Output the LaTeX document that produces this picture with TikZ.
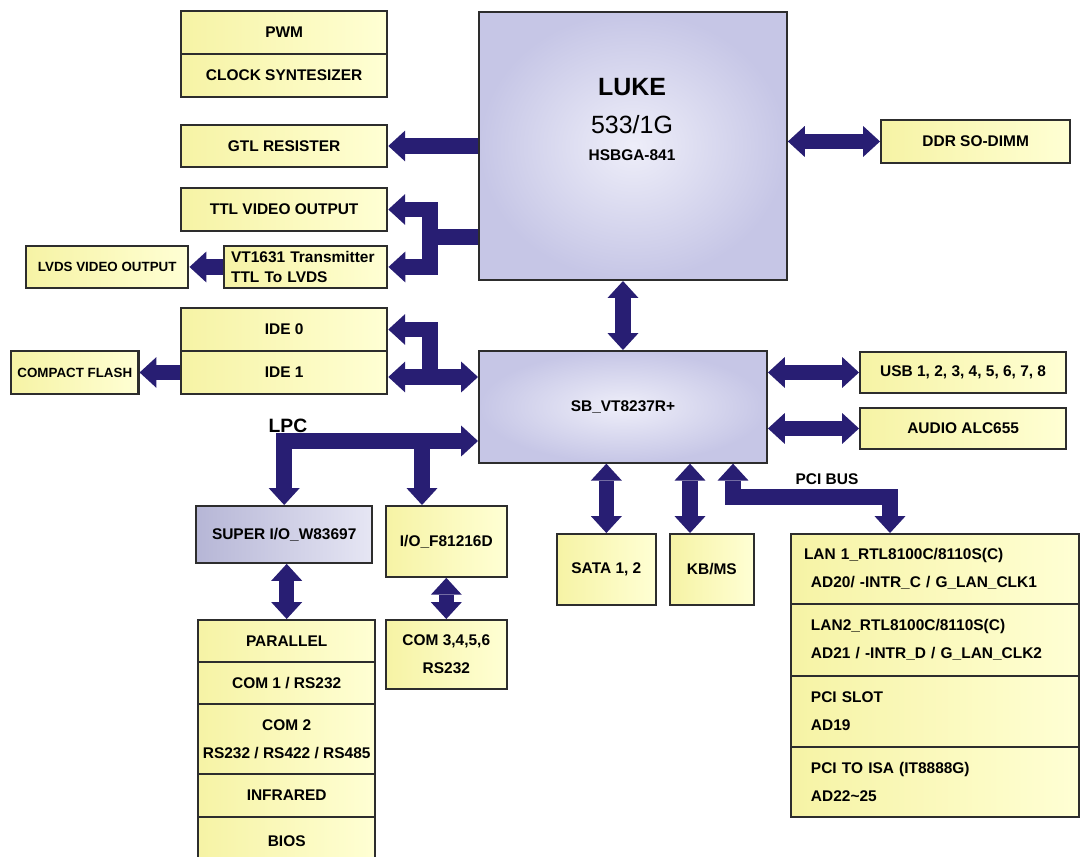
\documentclass[tikz,border=0pt]{standalone}
\usepackage{fontspec}
\setmainfont{Liberation Sans}
\usepackage{tikz}
\usetikzlibrary{arrows.meta,positioning,calc}
\definecolor{busblue}{RGB}{40,30,115}
\definecolor{boxline}{RGB}{45,45,45}
\definecolor{ylwL}{RGB}{246,243,165}
\definecolor{ylwR}{RGB}{255,255,212}
\definecolor{chipIn}{RGB}{238,238,249}
\definecolor{chipOut}{RGB}{198,198,230}
\definecolor{sioL}{RGB}{182,182,214}
\definecolor{sioR}{RGB}{230,230,244}
\newcommand{\pxl}{0.5669pt}

\begin{document}
\begin{tikzpicture}[x=0.02cm,y=-0.02cm,
  sz/.style 2 args={anchor=north west,minimum width=#1*\pxl,minimum height=#2*\pxl},
  yb/.style={draw=boxline,line width=1.2pt,left color=ylwL,right color=ylwR,inner sep=0pt,
    font=\fontsize{8.8}{15.9}\selectfont\bfseries,align=center},
  ch/.style={yb,inner color=chipIn,outer color=chipOut},
  lan/.style={yb,align=left,text width=141.2pt,inner xsep=20*\pxl},
  sm/.style={font=\fontsize{7.6}{9}\selectfont\bfseries},
  bus/.style={line width=8.8pt,draw=busblue,line join=miter},
  hd/.tip={Triangle[width=17.6pt,length=9.6pt,line width=0pt]}
]
\clip (0,0) rectangle (1081,856);
\fill[white] (0,0) rectangle (1081,856);
%--- left column ---
\node[yb,sz={207}{43}] (pwm) at (180,10) {PWM};
\node[yb,sz={207}{43}] (clk) at (180,53) {CLOCK SYNTESIZER};
\node[yb,sz={207}{42}] (gtl) at (180,124) {GTL RESISTER};
\node[yb,sz={207}{43}] (ttl) at (180,187) {TTL VIDEO OUTPUT};
\node[yb,sz={164}{42},align=left,text width=85pt,inner xsep=7*\pxl,
  font=\fontsize{8.8}{11.3}\selectfont\bfseries] (vt) at (223,245) {VT1631 Transmitter\\TTL To LVDS};
\node[yb,sm,sz={163}{42}] (lvds) at (25,245) {LVDS VIDEO OUTPUT};
\node[yb,sz={207}{43}] (ide0) at (180,307) {IDE 0};
\node[yb,sz={207}{43}] (ide1) at (180,350) {IDE 1};
\node[yb,sm,sz={128}{43}] (cf) at (10,350) {COMPACT FLASH};
%--- chips ---
\node[ch,sz={309}{269}] (luke) at (478,11) {};
\node[font=\fontsize{14.2}{16}\selectfont\bfseries] (lukename) at (632,87) {LUKE};
\node[font=\fontsize{14.2}{16}\selectfont] (lukespeed) at (632,125) {533/1G};
\node[font=\fontsize{8.8}{10}\selectfont\bfseries] (lukepkg) at (632,155) {HSBGA-841};
\node[ch,sz={289}{112}] (sb) at (478,350) {SB\_VT8237R+};
%--- right side ---
\node[yb,sz={190}{43}] (ddr) at (880,119) {DDR SO-DIMM};
\node[yb,sz={207}{41}] (usb) at (859,351) {USB 1, 2, 3, 4, 5, 6, 7, 8};
\node[yb,sz={207}{41}] (audio) at (859,407) {AUDIO ALC655};
%--- LPC devices ---
\node[yb,left color=sioL,right color=sioR,sz={177}{57}] (sio) at (195,505) {SUPER I/O\_W83697};
\node[yb,sz={121}{71}] (iof) at (385,505) {I/O\_F81216D};
\node[yb,sz={121}{69}] (com3) at (385,619) {COM 3,4,5,6\\RS232};
\node[yb,sz={178}{42}] (par) at (197,619) {PARALLEL};
\node[yb,sz={178}{42}] (com1) at (197,661) {COM 1 / RS232};
\node[yb,sz={178}{70}] (com2) at (197,703) {COM 2\\RS232 / RS422 / RS485};
\node[yb,sz={178}{43}] (ir) at (197,773) {INFRARED};
\node[yb,sz={178}{48}] (bios) at (197,816) {BIOS};
%--- below south bridge ---
\node[yb,sz={99}{71}] (sata) at (556,533) {SATA 1, 2};
\node[yb,sz={84}{71}] (kbms) at (669,533) {KB/MS};
\node[lan,sz={289}{70}] (lan1) at (790,533) {\hspace*{-3.97pt}LAN 1\_RTL8100C/8110S(C)\\AD20/ -INTR\_C / G\_LAN\_CLK1};
\node[lan,sz={289}{72}] (lan2) at (790,603) {LAN2\_RTL8100C/8110S(C)\\AD21 / -INTR\_D / G\_LAN\_CLK2};
\node[lan,sz={289}{71}] (slot) at (790,675) {PCI SLOT\\AD19};
\node[lan,sz={289}{70}] (isa) at (790,746) {PCI TO ISA (IT8888G)\\AD22\textasciitilde25};
\node[font=\fontsize{11}{13}\selectfont\bfseries] (lpclbl) at (288,426) {LPC};
\node[font=\fontsize{8.8}{10}\selectfont\bfseries] (pcilbl) at (827,479) {PCI BUS};
%--- buses ---
\coordinate (vj) at (430,237);
\coordinate (ij) at (430,377);
\coordinate (lpc) at (422,441);
\coordinate (pci) at (733,497);
\coordinate (pcit) at ($(lan1.north west)+(100,0)$);
\coordinate (kbx) at ($(kbms.north west)+(21,0)$);
\draw[bus,-hd] (luke.west |- gtl.east) -- (gtl.east);
\draw[bus,hd-hd] (luke.east |- ddr.west) -- (ddr.west);
\draw[bus] (vj -| luke.west) -- (vj);
\draw[bus,-hd] (vj) |- (ttl.east);
\draw[bus,-hd] (vj) |- (vt.east);
\draw[bus,-hd] (vt.west) -- (lvds.east);
\draw[bus,hd-hd] (sb.north) -- (sb.north |- luke.south);
\draw[bus,hd-hd] (ij -| ide1.east) -- (ij -| sb.west);
\draw[bus,-hd] (ij) |- (ide0.east);
\draw[bus,-hd] (ide1.west) -- (cf.east);
\draw[bus,hd-hd] (sio.north) |- (lpc -| sb.west);
\draw[bus,-hd] (lpc) -- (lpc |- iof.north);
\draw[bus,hd-hd] (par.north) -- (par.north |- sio.south);
\draw[bus,hd-hd] (com3.north) -- (com3.north |- iof.south);
\draw[bus,hd-hd] (sata.north) -- (sata.north |- sb.south);
\draw[bus,hd-hd] (kbx) -- (kbx |- sb.south);
\draw[bus,hd-hd] (pci |- sb.south) -- (pci) -| (pcit);
\draw[bus,hd-hd] (sb.east |- usb.west) -- (usb.west);
\draw[bus,hd-hd] (sb.east |- audio.west) -- (audio.west);
\end{tikzpicture}
\end{document}
